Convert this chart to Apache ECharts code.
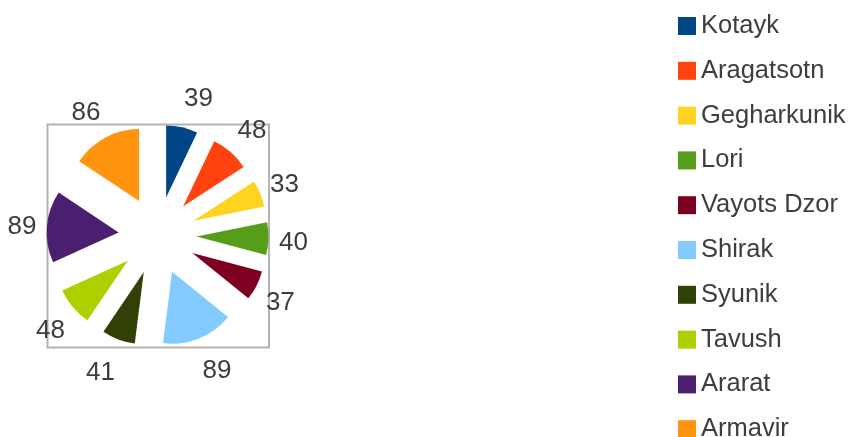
<!DOCTYPE html>
<html>
<head>
<meta charset="utf-8">
<script src="https://cdn.jsdelivr.net/npm/echarts@6/dist/echarts.min.js"></script>
<style>
html,body{margin:0;padding:0;background:#fff;}
#chart{width:853px;height:437px;}
</style>
</head>
<body>
<div id="chart"></div>
<script>
const categories = ['Kotayk','Aragatsotn','Gegharkunik','Lori','Vayots Dzor','Shirak','Syunik','Tavush','Ararat','Armavir'];
const values = [39,48,33,40,37,89,41,48,89,86];
const colors = ['#004586','#ff420e','#ffd320','#579d1c','#7e0021','#83caff','#314004','#aecf00','#4b1f6f','#ff950e'];

const font = 'Liberation Sans, Arial, sans-serif';
const textColor = '#3d3d3d';
const center = [157.5, 235.5];

const chart = echarts.init(document.getElementById('chart'), null, {renderer: 'canvas'});

const sliceData = categories.map((n, i) => ({
  name: n, value: values[i], selected: true,
  itemStyle: {color: colors[i]}
}));

// value labels: placed around the pie along each slice's mid angle,
// left/right aligned like the original chart's outside labels
const total = values.reduce((a, b) => a + b, 0);
let acc = 0;
const labelData = categories.map((n, i) => {
  const mid = (acc + values[i] / 2) / total * 2 * Math.PI;
  acc += values[i];
  const s = Math.sin(mid), c = Math.cos(mid);
  return {name: n, value: values[i], label: {offset: [122 * s + 14 * Math.sign(s), -143 * c + 3]}};
});

chart.setOption({
  animation: false,
  backgroundColor: '#ffffff',
  graphic: [{
    type: 'rect', z: -10, silent: true,
    shape: {x: 47.5, y: 124.5, width: 221.5, height: 223},
    style: {fill: 'none', stroke: '#b3b3b3', lineWidth: 2}
  }],
  legend: {
    orient: 'vertical',
    left: 678, top: 13,
    height: 600,
    padding: 0,
    itemWidth: 18, itemHeight: 18,
    itemGap: 18.8,
    icon: 'rect',
    selectedMode: false,
    data: categories.map((n, i) => ({name: n, itemStyle: {color: colors[i]}})),
    textStyle: {fontFamily: font, fontSize: 25.5, color: textColor, lineHeight: 26}
  },
  series: [{
    type: 'pie',
    center: center,
    radius: [0, 72],
    startAngle: 90,
    clockwise: true,
    selectedMode: 'multiple',
    selectedOffset: 39,
    emphasis: {disabled: true},
    label: {show: false},
    labelLine: {show: false},
    data: sliceData,
    z: 2
  }, {
    type: 'pie',
    center: center,
    radius: [0, 1],
    startAngle: 90,
    clockwise: true,
    silent: true,
    avoidLabelOverlap: false,
    emphasis: {disabled: true},
    itemStyle: {color: 'rgba(0,0,0,0)'},
    label: {
      show: true, position: 'center', formatter: '{c}',
      align: 'center', verticalAlign: 'middle',
      fontFamily: font, fontSize: 26, color: textColor
    },
    labelLine: {show: false},
    data: labelData,
    z: 3
  }]
});
</script>
</body>
</html>
